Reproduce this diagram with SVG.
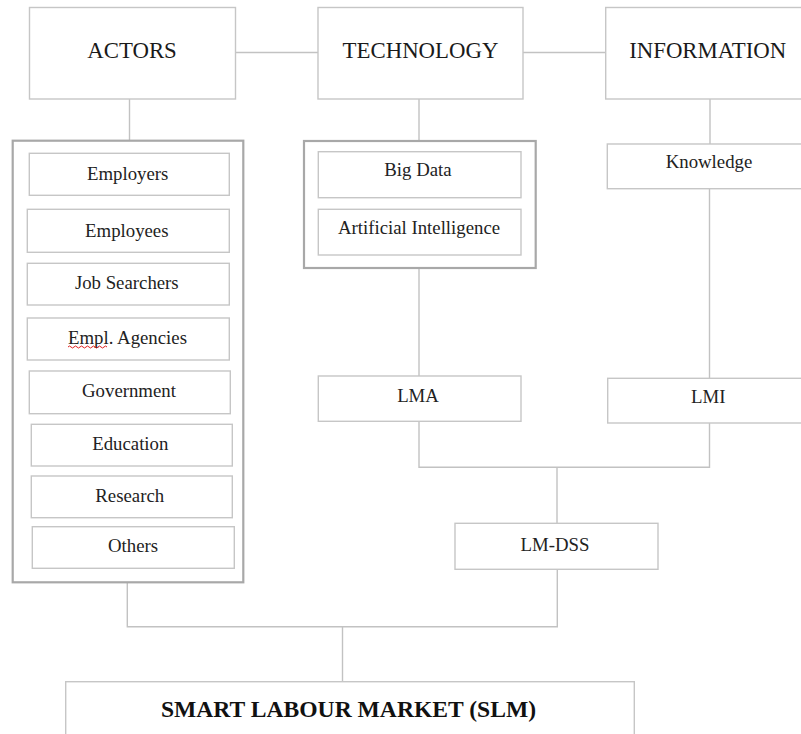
<svg xmlns="http://www.w3.org/2000/svg" width="801" height="734" viewBox="0 0 801 734">
  <style>
    .box { fill: #ffffff; stroke: #c6c6c6; stroke-width: 1.4; }
    .group { fill: #ffffff; stroke: #a8a8a8; stroke-width: 2.2; }
    .link { fill: none; stroke: #c2c2c2; stroke-width: 1.4; }
    .head { font-family: "Liberation Serif", "Times New Roman", serif; font-size: 22.8px; fill: #1a1a1a; text-anchor: middle; }
    .lbl { font-family: "Liberation Serif", "Times New Roman", serif; font-size: 18.8px; fill: #222222; text-anchor: middle; }
    .title { font-family: "Liberation Serif", "Times New Roman", serif; font-size: 23.6px; font-weight: bold; fill: #111111; text-anchor: middle; }
  </style>
  <rect width="801" height="734" fill="#ffffff"/>

  <!-- connectors -->
  <g id="connectors">
    <line class="link" x1="235.5" y1="52.5" x2="318" y2="52.5"/>
    <line class="link" x1="523" y1="52.5" x2="605.7" y2="52.5"/>
    <line class="link" x1="129.5" y1="99" x2="129.5" y2="140.7"/>
    <line class="link" x1="419" y1="99" x2="419" y2="141"/>
    <line class="link" x1="710" y1="99" x2="710" y2="144"/>
    <line class="link" x1="419" y1="268" x2="419" y2="376"/>
    <line class="link" x1="709.5" y1="188.7" x2="709.5" y2="378.3"/>
    <polyline class="link" points="419,421.3 419,467.3 709.5,467.3 709.5,423"/>
    <line class="link" x1="557" y1="467.3" x2="557" y2="523.3"/>
    <polyline class="link" points="127.3,582.3 127.3,626.7 557.3,626.7 557.3,569.3"/>
    <line class="link" x1="342.5" y1="626.7" x2="342.5" y2="681.7"/>
  </g>

  <!-- top row -->
  <g id="actors">
    <rect class="box" x="29.5" y="7.5" width="206" height="91.5"/>
    <text class="head" x="132" y="58.3">ACTORS</text>
  </g>
  <g id="technology">
    <rect class="box" x="318" y="7.5" width="205" height="91.5"/>
    <text class="head" x="420.5" y="58.3">TECHNOLOGY</text>
  </g>
  <g id="information">
    <rect class="box" x="605.7" y="7.5" width="210" height="91.5"/>
    <text class="head" x="707.7" y="58.3">INFORMATION</text>
  </g>

  <!-- actor list -->
  <g id="actors-group">
    <rect class="group" x="12.7" y="140.7" width="230.6" height="441.6"/>
  </g>
  <g id="employers">
    <rect class="box" x="29.3" y="153.3" width="200" height="42"/>
    <text class="lbl" x="127.7" y="180">Employers</text>
  </g>
  <g id="employees">
    <rect class="box" x="27.3" y="209.3" width="202" height="43"/>
    <text class="lbl" x="126.8" y="236.5">Employees</text>
  </g>
  <g id="job-searchers">
    <rect class="box" x="27.3" y="263.3" width="202" height="41.7"/>
    <text class="lbl" x="126.8" y="289.3">Job Searchers</text>
  </g>
  <g id="empl-agencies">
    <rect class="box" x="27.3" y="318" width="202" height="42"/>
    <text class="lbl" x="127.5" y="344">Empl. Agencies</text>
    <!-- spell-check squiggle under the abbreviation -->
    <path d="M68,347 q1.5,-2 3,0 t3,0 t3,0 t3,0 t3,0 t3,0 t3,0 t3,0 t3,0 t3,0 t3,0 t3,0 t3,0" fill="none" stroke="#e02020" stroke-width="1"/>
  </g>
  <g id="government">
    <rect class="box" x="29.3" y="371" width="201" height="42.7"/>
    <text class="lbl" x="129" y="397.3">Government</text>
  </g>
  <g id="education">
    <rect class="box" x="31.3" y="424.3" width="201" height="41.7"/>
    <text class="lbl" x="130.3" y="450">Education</text>
  </g>
  <g id="research">
    <rect class="box" x="31.3" y="476" width="201" height="41.7"/>
    <text class="lbl" x="129.7" y="501.7">Research</text>
  </g>
  <g id="others">
    <rect class="box" x="32.3" y="526.7" width="202" height="41.6"/>
    <text class="lbl" x="133" y="552.3">Others</text>
  </g>

  <!-- technology list -->
  <g id="technology-group">
    <rect class="group" x="304" y="141" width="231.7" height="127"/>
  </g>
  <g id="big-data">
    <rect class="box" x="318.3" y="151.7" width="202.7" height="46"/>
    <text class="lbl" x="418" y="176">Big Data</text>
  </g>
  <g id="artificial-intelligence">
    <rect class="box" x="318.3" y="209.3" width="202.7" height="45.7"/>
    <text class="lbl" x="419" y="234.3">Artificial Intelligence</text>
  </g>

  <!-- information -->
  <g id="knowledge">
    <rect class="box" x="607.3" y="144" width="210" height="44.7"/>
    <text class="lbl" x="709" y="167.7">Knowledge</text>
  </g>

  <!-- analytics / intelligence layer -->
  <g id="lma">
    <rect class="box" x="318.3" y="376" width="202.7" height="45.3"/>
    <text class="lbl" x="418" y="401.7">LMA</text>
  </g>
  <g id="lmi">
    <rect class="box" x="607.7" y="378.3" width="210" height="44.7"/>
    <text class="lbl" x="708.3" y="403.3">LMI</text>
  </g>
  <g id="lm-dss">
    <rect class="box" x="455" y="523.3" width="203" height="46"/>
    <text class="lbl" x="555" y="550.7">LM-DSS</text>
  </g>

  <!-- outcome -->
  <g id="slm">
    <rect class="box" x="65.7" y="681.7" width="568.6" height="70"/>
    <text class="title" x="348.5" y="717.3">SMART LABOUR MARKET (SLM)</text>
  </g>
</svg>
